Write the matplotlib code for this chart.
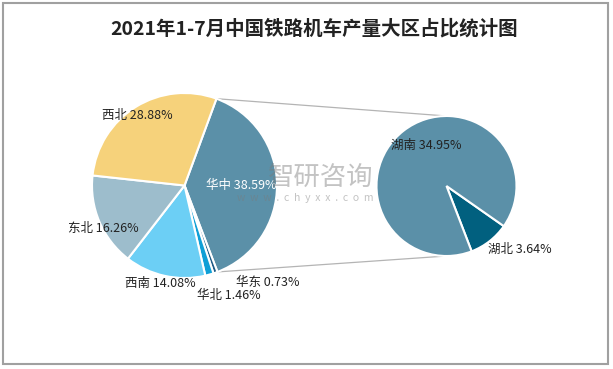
import matplotlib.pyplot as plt
import numpy as np
from matplotlib.patches import Rectangle

plt.rcParams['font.family'] = ['Noto Sans CJK SC', 'DejaVu Sans']

title = '2021年1-7月中国铁路机车产量大区占比统计图'

regions = ['华中', '华东', '华北', '西南', '东北', '西北']
shares = [38.59, 0.73, 1.46, 14.08, 16.26, 28.88]
colors = ['#5b90a8', '#1d5a85', '#0f9fd6', '#6ccff5', '#9dbdcc', '#f6d27b']

sub_regions = ['湖北', '湖南']
sub_shares = [3.64, 34.95]
sub_colors = ['#01607f', '#5b90a8']

W, H = 613, 369
fig = plt.figure(figsize=(W / 100, H / 100), dpi=100)
ax = fig.add_axes([0, 0, 1, 1])

# left pie (pixel coordinates, y up)
c1 = (184.5, 183.5)
r1 = 92.5
wedges, _ = ax.pie(shares, colors=colors, center=c1, radius=r1,
                   startangle=69.8, counterclock=False,
                   wedgeprops=dict(edgecolor='white', linewidth=1.5))

# right pie
c2 = (446.5, 183)
r2 = 70
ax.pie(sub_shares, colors=sub_colors, center=c2, radius=r2,
       startangle=-35, counterclock=False,
       wedgeprops=dict(edgecolor='white', linewidth=1.5))

# connection lines from 华中 wedge edges to right pie
w = wedges[0]
for ang, yy in [(w.theta2, c2[1] + r2), (w.theta1, c2[1] - r2)]:
    x0 = c1[0] + r1 * np.cos(np.radians(ang))
    y0 = c1[1] + r1 * np.sin(np.radians(ang))
    ax.plot([x0, c2[0]], [y0, yy], color='#b4b4b4', lw=0.9, zorder=0)

ax.set_xlim(0, W)
ax.set_ylim(0, H)
ax.set_aspect('auto')
ax.axis('off')

# labels
def lab(i):
    return f'{regions[i]} {shares[i]:.2f}%'

dark = '#222222'
ax.text(241, 184, lab(0), color='white', fontsize=9, ha='center', va='center')
ax.text(268, 87, lab(1), color=dark, fontsize=9, ha='center', va='center')
ax.text(229, 74, lab(2), color=dark, fontsize=9, ha='center', va='center')
ax.text(160, 86, lab(3), color=dark, fontsize=9, ha='center', va='center')
ax.text(103, 141, lab(4), color=dark, fontsize=9, ha='center', va='center')
ax.text(137, 253, lab(5), color=dark, fontsize=9, ha='center', va='center')
ax.text(426, 224, f'{sub_regions[1]} {sub_shares[1]:.2f}%', color=dark,
        fontsize=9, ha='center', va='center')
ax.text(520, 120, f'{sub_regions[0]} {sub_shares[0]:.2f}%', color=dark,
        fontsize=9, ha='center', va='center')

# watermark
ax.text(321, 192, '智研咨询', color='#7a7a7a', alpha=0.45, fontsize=19,
        ha='center', va='center', zorder=5)
ax.text(305, 171, 'w  w  w  .  c  h  y  x  x  .  c  o  m', color='#7a7a7a',
        alpha=0.45, fontsize=7.5, ha='center', va='center', zorder=5)

ax.text(314, H - 28.5, title, fontsize=14, fontweight='bold',
        color=dark, ha='center', va='center')

ax.add_patch(Rectangle((3, 5), 605, 361, fill=False, edgecolor='#a0a0a0', lw=1.5))

fig.savefig('out.png', dpi=100)
